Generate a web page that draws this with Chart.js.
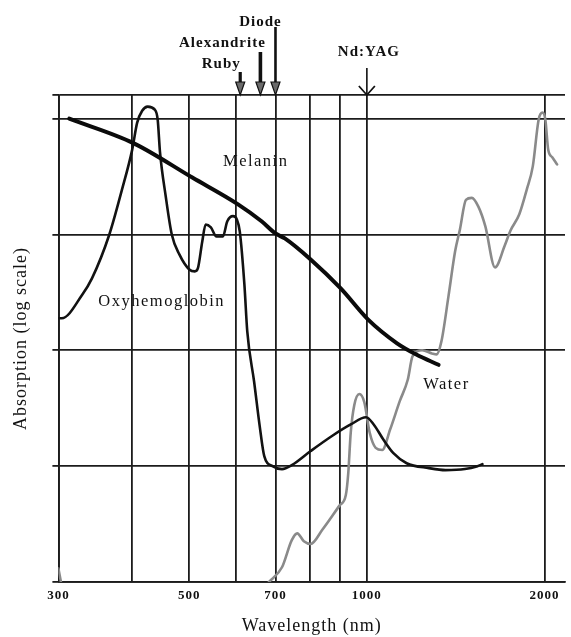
<!DOCTYPE html>
<html>
<head>
<meta charset="utf-8">
<title>Absorption spectra of skin chromophores</title>
<script src="https://cdn.jsdelivr.net/npm/chart.js@4.4.1/dist/chart.umd.min.js"></script>
<style>
  html, body { margin: 0; padding: 0; background: #fff; }
  canvas { display: block; }
</style>
</head>
<body>
<canvas id="spectra" width="571" height="637"></canvas>
<script>
// Relative absorption (log scale) against wavelength in nm.
const melaninWavelength = [313, 402, 506, 604, 663, 700, 726, 803, 903, 1004, 1125, 1213, 1323];
const melaninAbsorption = [10000, 6150, 3100, 1830, 1300, 1020, 924, 608, 342, 185, 115, 92, 75];

const oxyWavelength = [300, 304, 329, 342, 366, 384, 400, 408, 416, 425,
  437, 442, 446, 456, 467, 481, 500, 511, 517, 526,
  533, 544, 556, 570, 580, 593, 602, 609, 620, 627,
  644, 658, 670, 692, 718, 746, 803, 874, 939, 997,
  1027, 1067, 1108, 1168, 1274, 1359, 1466, 1540, 1570];
const oxyAbsorption = [189, 189, 300, 418, 1000, 2380, 5350, 9230, 11700, 12700,
  11960, 9800, 5140, 2150, 1000, 673, 499, 480, 509, 871,
  1220, 1150, 961, 961, 1300, 1440, 1350, 1060, 371, 146,
  53.5, 22.4, 12.2, 10.0, 9.43, 10.2, 13.5, 18.3, 22.9, 26.4,
  22.9, 16.9, 13.0, 10.6, 9.62, 9.25, 9.44, 10.0, 10.4];

// null: water absorption falls below the plotted range there
const waterWavelength = [300, 303, 500,
  682, 718, 746, 762, 782, 803, 841, 900, 921, 930,
  939, 952, 971, 990, 1011, 1035, 1062, 1095, 1137, 1173,
  1195, 1241, 1289, 1313, 1338, 1375, 1411, 1438, 1472, 1506,
  1546, 1588, 1649, 1713, 1752, 1813, 1868, 1911, 1955, 1985,
  2007, 2030, 2062, 2101];
const waterAbsorption = [1.31, 1.0, null,
  1.0, 1.34, 2.30, 2.63, 2.25, 2.13, 2.84, 4.61, 5.60, 8.73,
  19.5, 33.6, 42.0, 35.7, 19.5, 14.4, 13.8, 20.7, 36.4, 55.7,
  88.5, 100, 94.1, 92.2, 120, 292, 713, 1106, 1990, 2070,
  1730, 1175, 520, 804, 1084, 1497, 2480, 3870, 9800, 11270,
  9800, 5350, 4640, 4030];

// Laser emission lines marked above the plot
const laserNames = ['Ruby', 'Alexandrite', 'Diode', 'Nd:YAG'];
const laserWavelength = [610, 660, 700, 1000];

// Axis ticks
const xGridWavelength = [300, 400, 500, 600, 700, 800, 900, 1000, 2000];
const xTickLabels = ['300', '', '500', '', '700', '', '', '1000', '2000'];
const yGridValues = [1, 10, 100, 1000, 10000, 16000];

const curveNames = ['Melanin', 'Oxyhemoglobin', 'Water'];

const SERIF = "'Liberation Serif', 'DejaVu Serif', serif";
const INK = '#111111';
const GRID = '#1c1c1c';

// Where the curve names sit, in data coordinates [nm, absorption]
const curveNameAnchor = [[648, 4280], [449, 264], [1364, 50.4]];

// Arrow drawing styles, offsets measured upward from the top of the plot
const laserStyle = [
  { labelDx: -19, labelRise: 31, shaftRise: 23, shaft: 3.2 },
  { labelDx: -38, labelRise: 52, shaftRise: 43, shaft: 3.6 },
  { labelDx: -15, labelRise: 73, shaftRise: 68, shaft: 2.6 },
  { labelDx: 2,   labelRise: 43, shaftRise: 27, shaft: 1.6, open: true }
];

const toPoints = (xs, ys) => xs.map((x, i) => ({ x: x, y: ys[i] }));

const spectrumAnnotations = {
  id: 'spectrumAnnotations',
  beforeDraw(chart) {
    chart.ctx.letterSpacing = '1px';
  },
  afterDraw(chart) {
    const { ctx, chartArea, scales: { x, y } } = chart;
    ctx.save();
    ctx.fillStyle = INK;
    ctx.textAlign = 'center';
    ctx.textBaseline = 'middle';

    // curve names
    ctx.font = '16.5px ' + SERIF;
    ctx.letterSpacing = '1.5px';
    curveNames.forEach((name, i) => {
      const [wl, v] = curveNameAnchor[i];
      ctx.fillText(name, x.getPixelForValue(wl), y.getPixelForValue(v));
    });

    // laser arrows
    const tip = chartArea.top;
    laserNames.forEach((name, i) => {
      const s = laserStyle[i];
      const px = x.getPixelForValue(laserWavelength[i]);
      ctx.strokeStyle = INK;
      ctx.lineCap = 'butt';
      ctx.lineWidth = s.shaft;
      ctx.beginPath();
      ctx.moveTo(px, tip - s.shaftRise);
      ctx.lineTo(px, tip - (s.open ? 1 : 11));
      ctx.stroke();
      if (s.open) {
        ctx.lineWidth = 1.8;
        ctx.beginPath();
        ctx.moveTo(px - 8, tip - 9);
        ctx.lineTo(px, tip);
        ctx.lineTo(px + 8, tip - 9);
        ctx.stroke();
      } else {
        ctx.beginPath();
        ctx.moveTo(px - 4.5, tip - 13);
        ctx.lineTo(px + 4.5, tip - 13);
        ctx.lineTo(px, tip);
        ctx.closePath();
        ctx.fillStyle = '#6b6b6b';
        ctx.fill();
        ctx.lineWidth = 1.2;
        ctx.stroke();
      }
      ctx.fillStyle = INK;
      ctx.font = 'bold 15px ' + SERIF;
      ctx.letterSpacing = '1px';
      ctx.fillText(name, px + s.labelDx, tip - s.labelRise);
    });
    ctx.restore();
  }
};

new Chart(document.getElementById('spectra'), {
  type: 'line',
  data: {
    datasets: [
      {
        label: curveNames[0],
        data: toPoints(melaninWavelength, melaninAbsorption),
        borderColor: '#0b0b0b',
        borderWidth: 4,
        cubicInterpolationMode: 'monotone'
      },
      {
        label: curveNames[1],
        data: toPoints(oxyWavelength, oxyAbsorption),
        borderColor: '#121212',
        borderWidth: 2.6,
        cubicInterpolationMode: 'monotone'
      },
      {
        label: curveNames[2],
        data: toPoints(waterWavelength, waterAbsorption),
        borderColor: '#8a8a8a',
        borderWidth: 2.6,
        cubicInterpolationMode: 'monotone'
      }
    ]
  },
  options: {
    responsive: false,
    devicePixelRatio: 1,
    animation: false,
    layout: { padding: { top: 95, right: 6, bottom: 0, left: 0 } },
    elements: {
      point: { radius: 0, hoverRadius: 0 },
      line: { borderCapStyle: 'round', borderJoinStyle: 'round', fill: false }
    },
    plugins: {
      legend: { display: false },
      tooltip: { enabled: false }
    },
    scales: {
      x: {
        type: 'logarithmic',
        min: 300,
        max: 2167,
        afterBuildTicks: (axis) => { axis.ticks = xGridWavelength.map(v => ({ value: v })); },
        grid: { color: GRID, lineWidth: 1.8, drawTicks: false },
        border: { color: GRID, width: 1.8 },
        ticks: {
          autoSkip: false,
          maxRotation: 0,
          padding: 6.2,
          color: INK,
          font: { family: SERIF, size: 13, weight: 'bold' },
          callback: (value, index) => xTickLabels[index]
        },
        title: {
          display: true,
          text: 'Wavelength (nm)',
          color: INK,
          font: { family: SERIF, size: 18 },
          padding: { top: 5.4, bottom: 0 }
        }
      },
      y: {
        type: 'logarithmic',
        min: 1,
        max: 16000,
        afterBuildTicks: (axis) => { axis.ticks = yGridValues.map(v => ({ value: v })); },
        grid: { color: GRID, lineWidth: 1.8, drawTicks: true, tickLength: 6 },
        border: { color: GRID, width: 1.8 },
        ticks: { display: false },
        title: {
          display: true,
          text: 'Absorption (log scale)',
          color: INK,
          font: { family: SERIF, size: 18 },
          padding: { top: 10.2, bottom: 20.6 }
        }
      }
    }
  },
  plugins: [spectrumAnnotations]
});
</script>
</body>
</html>
